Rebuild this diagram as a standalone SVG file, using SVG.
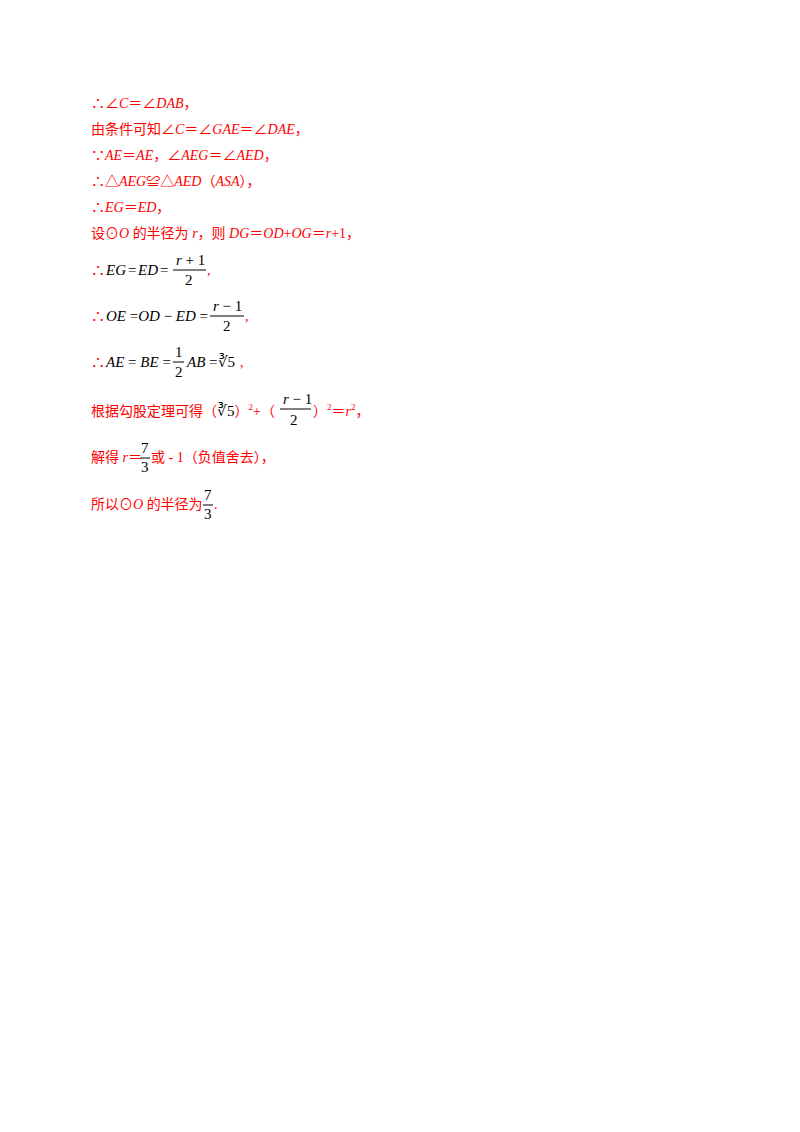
<svg xmlns="http://www.w3.org/2000/svg" width="800" height="1132" viewBox="0 0 800 1132">
<style>
.r{fill:#ff0000;font-family:"Liberation Serif","Noto Sans CJK SC",serif;font-size:14px}
.k{fill:#000;font-family:"Liberation Serif","Noto Sans CJK SC",serif;font-size:15px}
.i{font-style:italic}
.l{stroke:#000;stroke-width:1}
</style>
<rect width="800" height="1132" fill="#fff"/>
<g id="lines">
<text class="r" x="91" y="108">∴∠<tspan class="i">C</tspan>＝∠<tspan class="i">DAB</tspan>，</text>
<text class="r" x="91" y="134">由条件可知∠<tspan class="i">C</tspan>＝∠<tspan class="i">GAE</tspan>＝∠<tspan class="i">DAE</tspan>，</text>
<text class="r" x="91" y="160">∵<tspan class="i">AE</tspan>＝<tspan class="i">AE</tspan>，∠<tspan class="i">AEG</tspan>＝∠<tspan class="i">AED</tspan>，</text>
<text class="r" x="91" y="186">∴△<tspan class="i">AEG</tspan>≌△<tspan class="i">AED</tspan>（<tspan class="i">ASA</tspan>），</text>
<text class="r" x="91" y="212">∴<tspan class="i">EG</tspan>＝<tspan class="i">ED</tspan>，</text>
<text class="r" x="91" y="238">设⊙<tspan class="i">O</tspan> 的半径为 <tspan class="i">r</tspan>，则 <tspan class="i">DG</tspan>＝<tspan class="i">OD</tspan>+<tspan class="i">OG</tspan>＝<tspan class="i">r</tspan>+1，</text>
</g>
<g id="eq1">
<text class="r" x="91" y="275" font-size="16">∴</text>
<text class="k i" x="106" y="275">EG</text><text class="k" x="128" y="275">=</text><text class="k i" x="138" y="275">ED</text><text class="k" x="160" y="275">=</text>
<text class="k" x="176" y="265"><tspan class="i">r</tspan> + 1</text>
<line class="l" x1="173" y1="270" x2="206" y2="270"/>
<text class="k" x="185" y="285">2</text>
<text class="r" x="207" y="275">,</text>
</g>
<g id="eq2">
<text class="r" x="91" y="321" font-size="16">∴</text>
<text class="k" x="106" y="321"><tspan class="i">OE</tspan> =<tspan class="i">OD</tspan> − <tspan class="i">ED</tspan> =</text>
<text class="k" x="213" y="311"><tspan class="i">r</tspan> − 1</text>
<line class="l" x1="210" y1="316" x2="244" y2="316"/>
<text class="k" x="223" y="331">2</text>
<text class="r" x="245" y="321">,</text>
</g>
<g id="eq3">
<text class="r" x="91" y="367" font-size="16">∴</text>
<text class="k" x="106" y="367"><tspan class="i">AE</tspan> = <tspan class="i">BE</tspan> =</text>
<text class="k" x="175" y="357">1</text>
<line class="l" x1="173" y1="362" x2="184" y2="362"/>
<text class="k" x="175" y="377">2</text>
<text class="k" x="187" y="367"><tspan class="i">AB</tspan> =∛5</text>
<text class="r" x="240" y="367">,</text>
</g>
<g id="eq4">
<text class="r" x="91" y="416">根据勾股定理可得（<tspan fill="#000" font-size="15">∛5</tspan>）<tspan font-size="9" dy="-6">2</tspan><tspan dy="6">+（</tspan></text>
<text class="k" x="283" y="404"><tspan class="i">r</tspan> − 1</text>
<line class="l" x1="280" y1="409" x2="311" y2="409"/>
<text class="k" x="290" y="425">2</text>
<text class="r" x="313" y="416">）<tspan font-size="9" dy="-6">2</tspan><tspan dy="6">＝</tspan><tspan class="i">r</tspan><tspan font-size="9" dy="-6">2</tspan><tspan dy="6">，</tspan></text>
</g>
<g id="eq5">
<text class="r" x="91" y="462">解得 <tspan class="i">r</tspan>＝</text>
<text class="k" x="141" y="453">7</text>
<line class="l" x1="140" y1="458" x2="150" y2="458"/>
<text class="k" x="141" y="472">3</text>
<text class="r" x="151" y="462">或 - 1（负值舍去），</text>
</g>
<g id="eq6">
<text class="r" x="91" y="509">所以⊙<tspan class="i">O</tspan> 的半径为</text>
<text class="k" x="204" y="500">7</text>
<line class="l" x1="203" y1="505" x2="213" y2="505"/>
<text class="k" x="204" y="519">3</text>
<text class="r" x="214" y="509">.</text>
</g>
</svg>
